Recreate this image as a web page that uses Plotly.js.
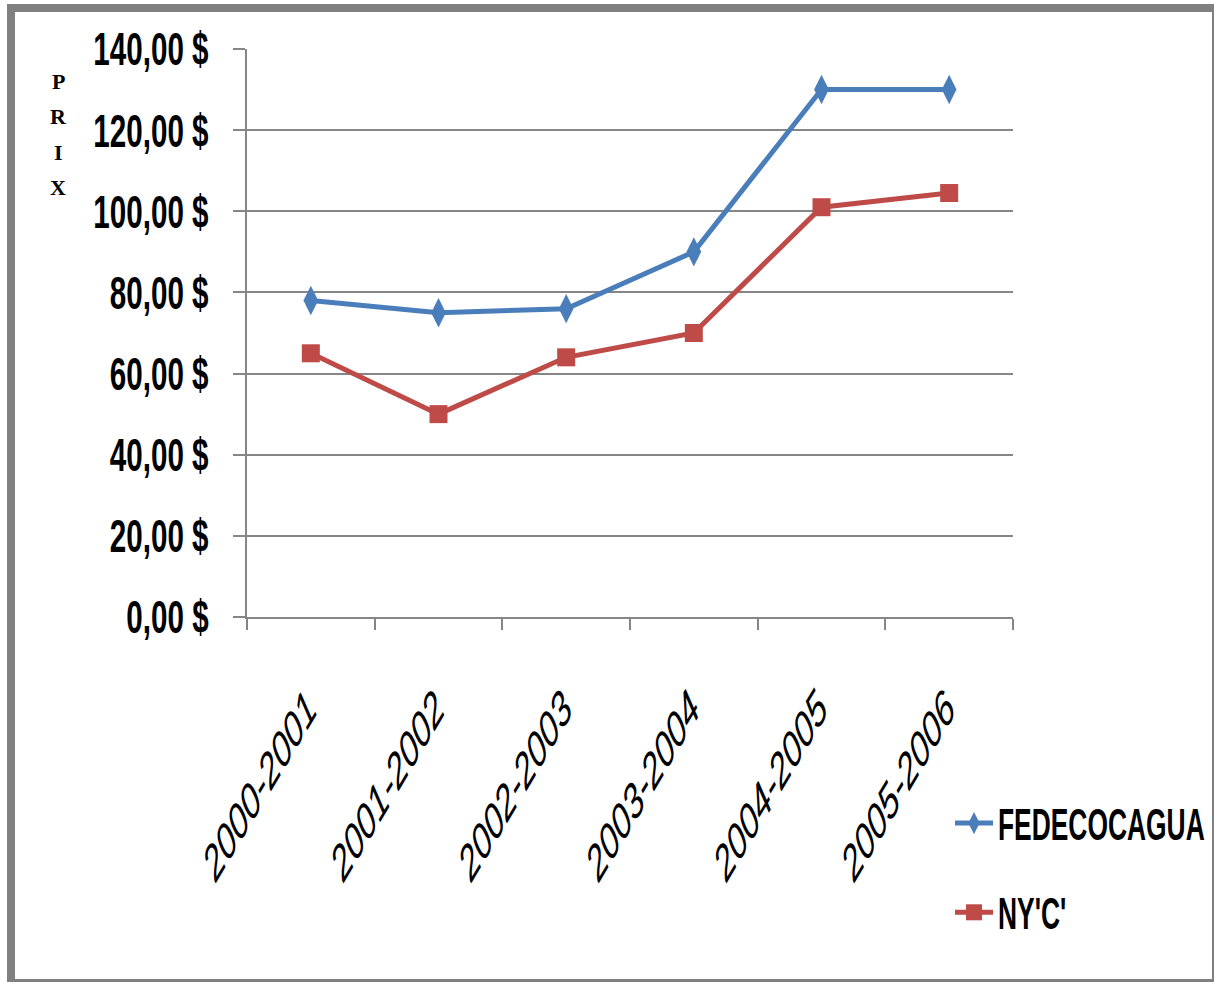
<!DOCTYPE html>
<html>
<head>
<meta charset="utf-8">
<script src="https://cdn.plot.ly/plotly-3.0.1.min.js"></script>
<style>
  html, body { margin: 0; padding: 0; background: #ffffff; }
  #chart { width: 1214px; height: 982px; }
</style>
</head>
<body>
<div id="chart"></div>
<script>
// ---- data ----
const categories = ['2000-2001', '2001-2002', '2002-2003', '2003-2004', '2004-2005', '2005-2006'];
const fedecocagua = [78, 75, 76, 90, 130, 130];
const nyc = [65, 50, 64, 70, 101, 104.5];
const seriesNames = ['FEDECOCAGUA', "NY'C'"];
const yTitleLetters = ['P', 'R', 'I', 'X'];

// ---- layout geometry (pixels) ----
const W = 1214, H = 982;
const M = { l: 247, r: 201, t: 49, b: 365 };
const PW = W - M.l - M.r, PH = H - M.t - M.b;
const px2x = px => (px - M.l) / PW;
const px2y = py => (H - M.b - py) / PH;

const grey = '#868686';
const borderGrey = '#808080';

const traces = [
  {
    type: 'scatter', mode: 'lines+markers',
    x: categories, y: fedecocagua, name: seriesNames[0],
    legendgroup: 'a',
    line: { color: '#4A7EBB', width: 5 },
    marker: { symbol: 'diamond-tall', size: 21, color: '#4A7EBB' }
  },
  {
    type: 'scatter', mode: 'lines+markers',
    x: categories, y: nyc, name: seriesNames[1],
    legendgroup: 'b',
    line: { color: '#BE4B48', width: 5 },
    marker: { symbol: 'square', size: 18, color: '#BE4B48' }
  }
];

const titleAnnotations = yTitleLetters.map((ch, i) => ({
  text: ch, xref: 'paper', yref: 'paper',
  x: px2x(58), y: px2y(82 + i * 35),
  xanchor: 'center', yanchor: 'middle', showarrow: false,
  font: { family: 'Liberation Serif, Times New Roman, serif', size: 22, color: '#000', weight: 'bold' }
}));

function rect(x0, y0, x1, y1) {
  return {
    type: 'rect', xref: 'paper', yref: 'paper', layer: 'above',
    x0: px2x(x0), x1: px2x(x1), y0: px2y(y0), y1: px2y(y1),
    fillcolor: borderGrey, line: { width: 0 }
  };
}

const layout = {
  width: W, height: H,
  margin: { l: M.l, r: M.r, t: M.t, b: M.b, pad: 0, autoexpand: false },
  paper_bgcolor: '#ffffff', plot_bgcolor: '#ffffff',
  separators: ', ',
  showlegend: true,
  legend: {
    x: px2x(950), y: px2y(788), xanchor: 'left', yanchor: 'top',
    xref: 'paper', yref: 'paper',
    traceorder: 'grouped', tracegroupgap: 29,
    itemwidth: 38,
    font: { family: 'Liberation Sans, Arial, sans-serif', size: 44, color: '#000', weight: 'bold' },
    bgcolor: 'rgba(0,0,0,0)', borderwidth: 0
  },
  xaxis: {
    type: 'category',
    range: [-0.5, categories.length - 0.5],
    autorange: false,
    automargin: false,
    showline: true, linecolor: grey, linewidth: 2,
    showgrid: false, zeroline: false,
    tickson: 'boundaries', ticks: 'outside', ticklen: 11, tickwidth: 2, tickcolor: grey,
    tickangle: -46,
    ticklabelstandoff: 40,
    ticklabelshift: -10,
    tickfont: { family: 'Liberation Sans, Arial, sans-serif', size: 50, color: '#000', style: 'italic' }
  },
  yaxis: {
    range: [0, 140], dtick: 20, tick0: 0,
    autorange: false,
    automargin: false,
    tickformat: '.2f', ticksuffix: ' $',
    showline: true, linecolor: grey, linewidth: 2,
    showgrid: true, gridcolor: grey, gridwidth: 2,
    zeroline: false,
    ticks: 'outside', ticklen: 12, tickwidth: 2, tickcolor: grey,
    ticklabelstandoff: 15,
    tickfont: { family: 'Liberation Sans, Arial, sans-serif', size: 47, color: '#000', weight: 'bold' }
  },
  annotations: titleAnnotations,
  shapes: [
    rect(7, 4, 15, 982),
    rect(7, 4, 1214, 12),
    rect(1212, 4, 1214, 982),
    rect(7, 979, 1214, 982)
  ]
};

// horizontally condense text about its own anchor point (screen space)
function condense(selector, k) {
  document.querySelectorAll(selector).forEach(el => {
    const x = parseFloat(el.getAttribute('x')) || 0;
    const y = parseFloat(el.getAttribute('y')) || 0;
    const tl = el.transform.baseVal;
    let m = null;
    if (tl.numberOfItems) m = tl.consolidate().matrix;
    let px = x, py = y, mStr = '';
    if (m) {
      px = m.a * x + m.c * y + m.e;
      py = m.b * x + m.d * y + m.f;
      mStr = ` matrix(${m.a},${m.b},${m.c},${m.d},${m.e},${m.f})`;
    }
    el.setAttribute('transform', `translate(${px},${py}) scale(${k},1) translate(${-px},${-py})${mStr}`);
  });
}

Plotly.newPlot('chart', traces, layout, { staticPlot: true, displayModeBar: false }).then(gd => {
  condense('.ytick text', 0.63);
  condense('.xtick text', 0.62);
  condense('.legendtext', 0.6);
});
</script>
</body>
</html>
